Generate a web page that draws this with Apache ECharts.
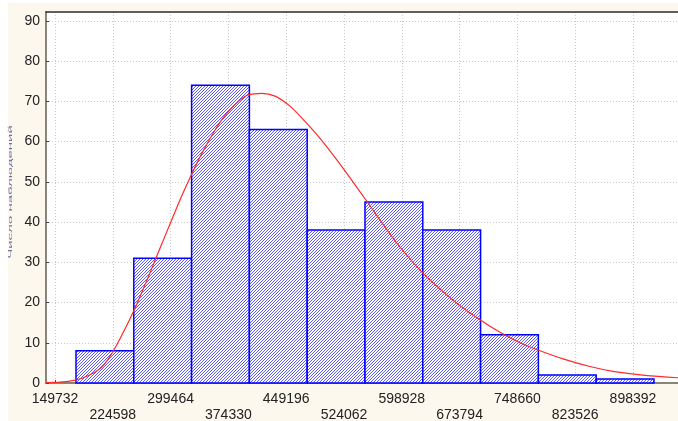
<!DOCTYPE html>
<html>
<head>
<meta charset="utf-8">
<script src="https://cdn.jsdelivr.net/npm/echarts@6/dist/echarts.min.js"></script>
<style>
  html, body { margin: 0; padding: 0; background: #ffffff; }
  #chart { width: 678px; height: 421px; }
</style>
</head>
<body>
<div id="chart"></div>
<script>
// Histogram bins: edges and observed counts
const binEdges = [176930, 251796, 326662, 401528, 476394, 551260, 626126, 700992, 775858, 850724, 925590];
const counts = [8, 31, 74, 63, 38, 45, 38, 12, 2, 1];

// Tick labels along the axes
const xTicks = [149732, 224598, 299464, 374330, 449196, 524062, 598928, 673794, 748660, 823526, 898392];
const yTicks = [0, 10, 20, 30, 40, 50, 60, 70, 80, 90];

// Fitted density curve (expected counts)
const curveX = [138074, 156209, 175638, 188591, 198953, 210611, 222269, 233927, 250765, 267604,
                285739, 298692, 311645, 324598, 334960, 344027, 354389, 366047, 376410, 389363,
                399725, 417859, 434698, 454128, 473557, 492987, 515007, 534436, 553866, 573295,
                592725, 613450, 635470, 667852, 700235, 726141, 752048, 775363, 807745, 842718,
                872511, 913960, 956705];
const curveY = [0.1, 0.2, 0.7, 1.5, 2.4, 4.0, 7.0, 11.0, 17.5, 25,
                33.5, 39.5, 45.5, 51, 55.2, 58.5, 62, 65.5, 67.9, 70.3,
                71.6, 72.0, 71.3, 68.8, 65.0, 60.8, 55.4, 50.3, 45.1, 39.8,
                34.7, 30, 25.6, 20.2, 15.7, 12.6, 10.0, 8.2, 6.0, 4.1,
                2.9, 1.9, 1.3];

const yTitle = 'Число наблюдений';

// Diagonal hatch tile for the bar fill
const tile = document.createElement('canvas');
tile.width = 3; tile.height = 3;
const tctx = tile.getContext('2d');
tctx.fillStyle = '#ffffff';
tctx.fillRect(0, 0, 3, 3);
tctx.fillStyle = '#5a5aff';
for (let i = 0; i < 3; i++) tctx.fillRect(i, 2 - i, 1, 1);
const hatch = { image: tile, repeat: 'repeat' };

const bins = counts.map((c, i) => [binEdges[i], binEdges[i + 1], c]);
const curve = curveX.map((x, i) => [x, curveY[i]]);

const chart = echarts.init(document.getElementById('chart'), null, { renderer: 'canvas' });
const font = "'Liberation Sans', Arial, sans-serif";

chart.setOption({
  animation: false,
  backgroundColor: '#ffffff',
  graphic: [
    { type: 'rect', z: -10, silent: true,
      shape: { x: 8, y: 3, width: 670, height: 418 },
      style: { fill: '#fdf8ee' } },
    { type: 'rect', z: -9, silent: true,
      shape: { x: 46, y: 12, width: 632, height: 371 },
      style: { fill: '#ffffff' } },
    { type: 'text', x: 11, y: 192, rotation: Math.PI / 2, scaleX: 1.25, scaleY: 0.45,
      style: { text: yTitle, font: '12px ' + font, fill: '#34448a', opacity: 0.75,
               align: 'center', verticalAlign: 'middle' } }
  ],
  grid: { left: 46, right: 0, top: 12, bottom: 38, containLabel: false, outerBoundsMode: 'none' },
  xAxis: [
    {
      type: 'value', min: 138074, max: 956705, position: 'bottom',
      axisLine: { show: true, lineStyle: { color: '#8a8479', width: 2 } },
      axisTick: { show: true, inside: true, length: 3, customValues: xTicks,
                  lineStyle: { color: '#444', width: 1 } },
      axisLabel: {
        customValues: xTicks, margin: 8, color: '#222', fontSize: 14, fontFamily: font,
        lineHeight: 16,
        formatter: (v) => (xTicks.indexOf(v) % 2 === 1 ? '\n' : '') + v
      },
      splitLine: { show: true, lineStyle: { color: '#c9c9c9', type: [1, 2], width: 1 } }
    },
    {
      type: 'value', min: 138074, max: 956705, position: 'top',
      axisLine: { show: true, onZero: false, lineStyle: { color: '#2b2b2b', width: 1.5 } },
      axisTick: { show: false }, axisLabel: { show: false }, splitLine: { show: false }
    }
  ],
  yAxis: {
    type: 'value', min: 0, max: 92.2,
    axisLine: { show: true, lineStyle: { color: '#8a8479', width: 2 } },
    axisTick: { show: true, inside: true, length: 3, customValues: yTicks,
                lineStyle: { color: '#444', width: 1 } },
    axisLabel: { customValues: yTicks, margin: 6, color: '#222', fontSize: 14, fontFamily: font },
    splitLine: { show: true, lineStyle: { color: '#c9c9c9', type: [1, 2], width: 1 } }
  },
  series: [
    {
      type: 'custom',
      xAxisIndex: 0,
      encode: { x: [0, 1], y: 2 },
      data: bins,
      z: 2,
      renderItem: (params, api) => {
        const p0 = api.coord([api.value(0), api.value(2)]);
        const p1 = api.coord([api.value(1), 0]);
        return {
          type: 'rect',
          shape: { x: p0[0], y: p0[1], width: p1[0] - p0[0], height: p1[1] - p0[1] },
          style: { fill: hatch, stroke: '#0000ff', lineWidth: 1.5 }
        };
      }
    },
    {
      type: 'line',
      xAxisIndex: 0,
      data: curve,
      smooth: 0.3,
      showSymbol: false,
      z: 3,
      lineStyle: { color: '#ff2a2a', width: 1.2 }
    }
  ]
});
</script>
</body>
</html>
